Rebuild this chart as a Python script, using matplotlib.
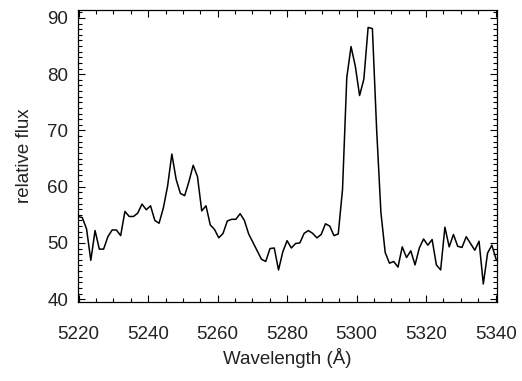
import numpy as np
import matplotlib
matplotlib.use("Agg")
import matplotlib.pyplot as plt
from matplotlib.ticker import MultipleLocator

# Spectrum: uniformly sampled wavelength grid
wave_start = 5219.8
wave_step = 1.228
flux = [54.7, 54.5, 52.5, 46.9, 52.2, 48.9, 48.9, 51.1, 52.3, 52.3,
        51.3, 55.6, 54.7, 54.7, 55.3, 56.9, 55.9, 56.6, 54.0, 53.5,
        56.2, 60.1, 65.8, 61.3, 58.8, 58.4, 60.9, 63.8, 61.8, 55.7,
        56.6, 53.2, 52.4, 50.9, 51.7, 53.9, 54.2, 54.2, 55.2, 54.0,
        51.6, 50.1, 48.6, 47.1, 46.7, 49.0, 49.1, 45.2, 48.4, 50.4,
        49.1, 49.9, 50.0, 51.7, 52.2, 51.7, 50.9, 51.5, 53.4, 53.0,
        51.3, 51.6, 59.5, 79.4, 84.9, 81.4, 76.2, 79.1, 88.3, 88.1,
        70.1, 55.4, 48.3, 46.4, 46.7, 45.7, 49.3, 47.4, 48.6, 46.1,
        49.1, 50.7, 49.6, 50.6, 46.1, 45.2, 52.8, 49.3, 51.5, 49.4,
        49.2, 51.1, 49.9, 48.7, 50.3, 42.7, 48.2, 49.6, 47.1]
wave = wave_start + wave_step * np.arange(len(flux))

x_ticks = [5220, 5240, 5260, 5280, 5300, 5320, 5340]
y_ticks = [40, 50, 60, 70, 80, 90]

plt.rcParams['font.family'] = ['Liberation Sans', 'DejaVu Sans']
txt = '#222222'

fig = plt.figure(figsize=(5.22, 3.81), dpi=100)
ax = fig.add_axes([78/522, 1-302/381, (497-78)/522, (302-10)/381])
ax.plot(wave, flux, color='black', lw=1.1)
ax.set_xlim(5219.8, 5340.4)
ax.set_ylim(39.5, 91.4)
ax.set_xticks(x_ticks)
ax.set_yticks(y_ticks)
ax.xaxis.set_minor_locator(MultipleLocator(5))
ax.yaxis.set_minor_locator(MultipleLocator(1))
ax.tick_params(which='both', direction='in', top=True, right=True,
               width=0.8, colors='black', labelcolor=txt, labelsize=13.5)
ax.tick_params(which='major', length=5)
ax.tick_params(which='minor', length=2.8)
ax.tick_params(axis='x', which='major', pad=17)
ax.tick_params(axis='y', which='major', pad=7)
for s in ax.spines.values():
    s.set_linewidth(0.9)
ax.set_xlabel('Wavelength (Å)', fontsize=13.5, color=txt, labelpad=4)
ax.set_ylabel('relative flux', fontsize=13.5, color=txt, labelpad=10)
fig.savefig('out.png', dpi=100)
